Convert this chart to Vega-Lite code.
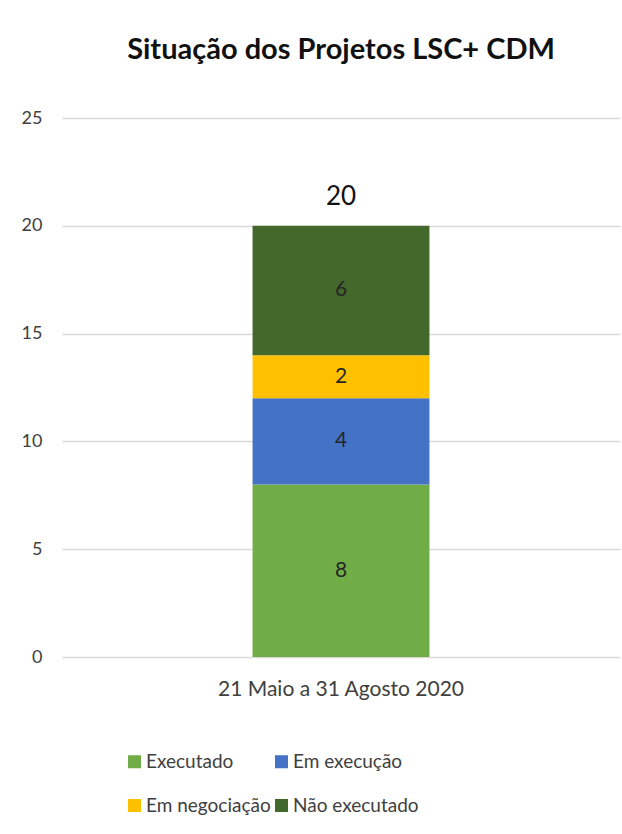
{
  "$schema": "https://vega.github.io/schema/vega-lite/v6.json",
  "autosize": "none",
  "width": 558,
  "height": 539,
  "padding": {"left": 62, "top": 118, "right": 2, "bottom": 177},
  "background": "white",
  "config": {
    "font": "Lato",
    "view": {"stroke": null},
    "axis": {"labelFont": "Lato", "labelColor": "#404040"}
  },
  "title": {
    "text": "Situação dos Projetos LSC+ CDM",
    "font": "Lato",
    "fontSize": 29,
    "fontWeight": "bold",
    "color": "#111111",
    "anchor": "middle",
    "offset": 44
  },
  "data": {
    "values": [
      {"periodo": "21 Maio a 31 Agosto 2020", "situacao": "Executado", "ordem": 1, "valor": 8},
      {"periodo": "21 Maio a 31 Agosto 2020", "situacao": "Em execução", "ordem": 2, "valor": 4},
      {"periodo": "21 Maio a 31 Agosto 2020", "situacao": "Em negociação", "ordem": 3, "valor": 2},
      {"periodo": "21 Maio a 31 Agosto 2020", "situacao": "Não executado", "ordem": 4, "valor": 6}
    ]
  },
  "encoding": {
    "x": {
      "field": "periodo",
      "type": "nominal",
      "scale": {"paddingInner": 0, "paddingOuter": 0},
      "axis": {"title": null, "domain": false, "ticks": false, "labelAngle": 0, "labelFontSize": 21, "labelLimit": 600, "labelPadding": 21, "labelColor": "#404040"}
    }
  },
  "layer": [
    {
      "mark": {"type": "bar", "width": {"band": 0.317}},
      "encoding": {
        "y": {
          "field": "valor",
          "type": "quantitative",
          "stack": "zero",
          "scale": {"domain": [0, 25], "nice": false},
          "axis": {"title": null, "values": [0, 5, 10, 15, 20, 25], "domain": false, "ticks": false, "labelFontSize": 18, "labelPadding": 20, "gridColor": "#d9d9d9", "gridWidth": 1.5}
        },
        "color": {
          "field": "situacao",
          "type": "nominal",
          "scale": {
            "domain": ["Executado", "Em execução", "Em negociação", "Não executado"],
            "range": ["#70AD47", "#4472C4", "#FFC000", "#43682B"]
          },
          "legend": {
            "title": null,
            "orient": "none",
            "legendX": 63,
            "legendY": 634,
            "direction": "horizontal",
            "columns": 2,
            "symbolType": "square",
            "symbolSize": 170,
            "symbolStrokeWidth": 0,
            "labelFontSize": 19,
            "labelColor": "#404040",
            "labelFont": "Lato",
            "rowPadding": 24,
            "columnPadding": 1,
            "labelOffset": 2
          }
        },
        "order": {"field": "ordem", "type": "quantitative"}
      }
    },
    {
      "transform": [
        {"stack": "valor", "groupby": ["periodo"], "sort": [{"field": "ordem"}], "as": ["v0", "v1"]},
        {"calculate": "(datum.v0 + datum.v1) / 2", "as": "meio"}
      ],
      "mark": {"type": "text", "fontSize": 21, "color": "#262626", "baseline": "middle"},
      "encoding": {
        "y": {"field": "meio", "type": "quantitative"},
        "text": {"field": "valor", "type": "quantitative"}
      }
    },
    {
      "mark": {"type": "text", "fontSize": 26, "color": "#111111", "baseline": "alphabetic", "dy": -21},
      "encoding": {
        "y": {"aggregate": "sum", "field": "valor", "type": "quantitative"},
        "text": {"aggregate": "sum", "field": "valor", "type": "quantitative"}
      }
    }
  ]
}
